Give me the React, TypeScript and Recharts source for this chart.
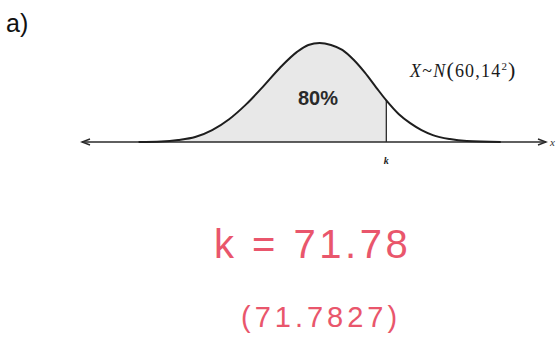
import { ComposedChart, Area, Line, XAxis, YAxis, ReferenceLine } from 'recharts';

// x positions (in units of X) and curve heights (peak = 1)
const xs = [28, 32, 35, 38, 41, 44, 47, 50, 53, 56, 58, 60, 62, 64, 66, 68, 70, 71.78, 74, 76, 78, 80, 83, 86, 92];
const heights = [0, 0.005, 0.02, 0.05, 0.12, 0.23, 0.38, 0.56, 0.75, 0.91, 0.98, 1, 0.98, 0.93, 0.83, 0.7, 0.55, 0.42, 0.28, 0.19, 0.12, 0.07, 0.03, 0.01, 0];
const kValue = 71.78;
const kHeight = 0.42;
const xDomain = [18, 100];

const data = xs.map((x, i) => ({
  x,
  curve: heights[i],
  shade: x <= kValue ? heights[i] : null,
}));

const red = '#e9566c';

const ArrowAxis = (props: any) => {
  const { x1, y1, x2, y2 } = props;
  return (
    <g stroke="#2a2a2a" strokeWidth={1.4} fill="none">
      <line x1={x1} y1={y1} x2={x2} y2={y2} />
      <polyline points={`${x1 + 8},${y1 - 3} ${x1},${y1} ${x1 + 8},${y1 + 3}`} />
      <polyline points={`${x2 - 8},${y2 - 3} ${x2},${y2} ${x2 - 8},${y2 + 3}`} />
    </g>
  );
};

export default function App() {
  return (
    <div style={{ position: 'absolute', left: 0, top: 0, width: 556, height: 341, background: '#fff', overflow: 'hidden' }}>
      <ComposedChart width={556} height={341} data={data} margin={{ top: 43, right: 10, left: 82, bottom: 179 }}>
        <XAxis
          dataKey="x"
          type="number"
          domain={xDomain}
          allowDataOverflow
          ticks={[kValue]}
          tickFormatter={() => 'k'}
          axisLine={false}
          tickLine={false}
          tickMargin={9}
          height={20}
          tick={{ fontSize: 10, fontStyle: 'italic', fontWeight: 'bold', fontFamily: 'Liberation Serif', fill: '#222' }}
        />
        <YAxis hide domain={[0, 1]} />
        <Area
          dataKey="shade"
          type="monotone"
          stroke="none"
          fill="#e8e8e8"
          fillOpacity={1}
          isAnimationActive={false}
          connectNulls={false}
        />
        <ReferenceLine y={0} shape={ArrowAxis} />
        <ReferenceLine
          segment={[{ x: kValue, y: 0 }, { x: kValue, y: kHeight }]}
          stroke="#2a2a2a"
          strokeWidth={1.3}
        />
        <Line
          dataKey="curve"
          type="monotone"
          stroke="#1e1e1e"
          strokeWidth={2}
          dot={false}
          isAnimationActive={false}
        />
      </ComposedChart>

      <div style={{ position: 'absolute', left: 6, top: 9, fontFamily: 'Liberation Sans', fontSize: 25, color: '#111' }}>a)</div>
      <div style={{ position: 'absolute', left: 298, top: 87, fontFamily: 'Liberation Sans', fontSize: 20, fontWeight: 'bold', color: '#2a2a2a' }}>80%</div>
      <div style={{ position: 'absolute', left: 410, top: 57, fontFamily: 'Liberation Serif', fontSize: 18, color: '#1a1a1a', letterSpacing: 1.2, whiteSpace: 'nowrap' }}>
        <i>X</i>~<i>N</i>
        <span style={{ fontSize: 22 }}>(</span>60,14<sup style={{ fontSize: 11 }}>2</sup>
        <span style={{ fontSize: 22 }}>)</span>
      </div>
      <div style={{ position: 'absolute', left: 550, top: 136, fontFamily: 'Liberation Serif', fontSize: 11, fontStyle: 'italic', color: '#333' }}>x</div>
      <div style={{ position: 'absolute', left: 214, top: 222, fontFamily: 'Liberation Sans', fontSize: 40, color: red, letterSpacing: 3.5, whiteSpace: 'nowrap' }}>
        k = 71.78
      </div>
      <div style={{ position: 'absolute', left: 241, top: 301, fontFamily: 'Liberation Sans', fontSize: 29, color: red, letterSpacing: 4, whiteSpace: 'nowrap' }}>
        (71.7827)
      </div>
    </div>
  );
}
